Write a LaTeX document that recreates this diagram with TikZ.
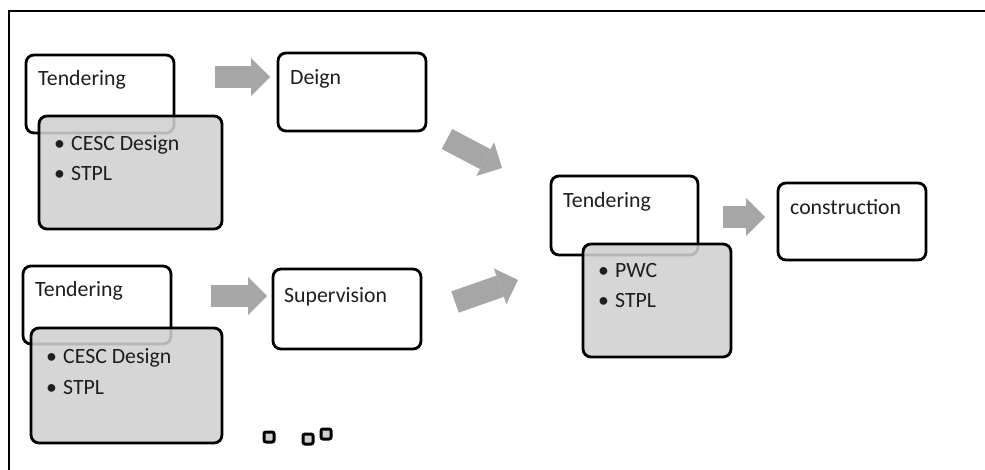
\documentclass[tikz,border=0pt]{standalone}
\usepackage{fontspec}
\setmainfont{Carlito}
\usetikzlibrary{arrows.meta,calc}
\definecolor{boxgrey}{HTML}{D0D0D0}
\definecolor{arrowgrey}{HTML}{A6A6A6}
\definecolor{txt}{HTML}{1E1E1E}
\tikzset{
  wbox/.style={draw=black, fill=white, line width=2.8pt, rounded corners=8pt, inner sep=0pt, outer sep=0pt, anchor=north west},
  gbox/.style={draw=black, fill=boxgrey, fill opacity=0.88, line width=2.8pt, rounded corners=8pt, inner sep=0pt, outer sep=0pt, anchor=north west},
  sq/.style={draw=black, fill=boxgrey, line width=3pt, rounded corners=2pt, minimum size=10pt, inner sep=0pt},
  lbl/.style={anchor=base west, inner sep=0pt, text=txt, font=\fontsize{21.8}{30}\selectfont},
  bigarrow/.style={line width=22.5pt, draw=arrowgrey, -{Triangle[length=19pt,width=38pt,line width=0pt]}},
  frame/.style={draw=black, line width=1.5pt}
}
\newcommand{\bul}{\makebox[17pt][l]{\textbullet}}
\begin{document}
\begin{tikzpicture}[x=1pt,y=-1pt]
\useasboundingbox (0,0) rectangle (985,470);
\draw[frame] (9,470) -- (9,11) -- (985,11);

% top-left group
\node[wbox, minimum width=148pt, minimum height=78pt] (t1) at (26,55) {};
\node[gbox, minimum width=183pt, minimum height=113pt] (g1) at (39,116) {};
\node[lbl] (t1l) at ($(t1.north west)+(12,31)$) {Tendering};
\node[lbl] (g1a) at ($(g1.north west)+(15,35)$) {\bul CESC Design};
\node[lbl] (g1b) at ($(g1.north west)+(15,65)$) {\bul STPL};

% Deign
\node[wbox, minimum width=148pt, minimum height=78pt] (de) at (278,53) {};
\node[lbl] (del) at ($(de.north west)+(12,32)$) {Deign};

% bottom-left group
\node[wbox, minimum width=148pt, minimum height=78pt] (t2) at (23,266) {};
\node[gbox, minimum width=191pt, minimum height=115pt] (g2) at (31,328) {};
\node[lbl] (t2l) at ($(t2.north west)+(12,31)$) {Tendering};
\node[lbl] (g2a) at ($(g2.north west)+(15,35)$) {\bul CESC Design};
\node[lbl] (g2b) at ($(g2.north west)+(15,66)$) {\bul STPL};

% Supervision
\node[wbox, minimum width=148pt, minimum height=80pt] (su) at (273,269) {};
\node[lbl] (sul) at ($(su.north west)+(11,33)$) {Supervision};

% middle group
\node[wbox, minimum width=147pt, minimum height=79pt] (t3) at (551,176) {};
\node[gbox, minimum width=148pt, minimum height=113pt] (g3) at (583,244) {};
\node[lbl] (t3l) at ($(t3.north west)+(12,32)$) {Tendering};
\node[lbl] (g3a) at ($(g3.north west)+(15,34)$) {\bul PWC};
\node[lbl] (g3b) at ($(g3.north west)+(15,64)$) {\bul STPL};

% construction
\node[wbox, minimum width=148pt, minimum height=77pt] (co) at (778,183) {};
\node[lbl] (col) at ($(co.north west)+(12,32)$) {construction};

% arrows
\coordinate (a1s) at (215,77);  \coordinate (a1e) at (270,77);
\coordinate (a2s) at (447,139); \coordinate (a2e) at (502,168);
\coordinate (a3s) at (211,296); \coordinate (a3e) at (267,296);
\coordinate (a4s) at (455,302); \coordinate (a4e) at (518,280);
\coordinate (a5s) at (723,217); \coordinate (a5e) at (765,217);
\draw[bigarrow] (a1s) -- (a1e);
\draw[bigarrow] (a2s) -- (a2e);
\draw[bigarrow] (a3s) -- (a3e);
\draw[bigarrow] (a4s) -- (a4e);
\draw[bigarrow] (a5s) -- (a5e);

% small squares
\node[sq] (s1) at (269,437) {};
\node[sq] (s2) at (308,439) {};
\node[sq] (s3) at (326,434) {};
\end{tikzpicture}
\end{document}
